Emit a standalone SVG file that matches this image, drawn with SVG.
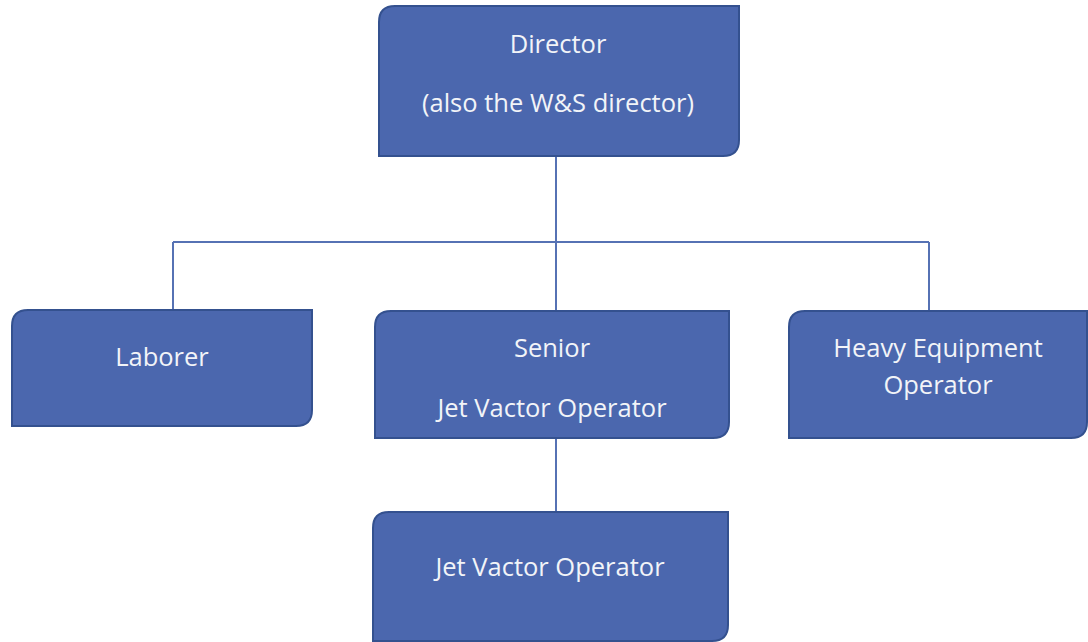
<svg xmlns="http://www.w3.org/2000/svg" width="1088" height="642" viewBox="0 0 1088 642">
<style>
.box{fill:#4b67ae;stroke:#34518f;stroke-width:2}
.t{font-family:"Open Sans","Noto Sans",sans-serif;font-size:25.5px;fill:#f2f4f8;text-anchor:middle}
.c{fill:none;stroke:#5672b4;stroke-width:2}
</style>
<rect width="1088" height="642" fill="#ffffff"/>
<g id="connectors">
<path class="c" d="M556 156V242M173 242H929M173 242V310M556 242V311M929 242V311M556 438V512"/>
</g>
<g id="director">
<path class="box" d="M395 6H739V140Q739 156 723 156H379V22Q379 6 395 6Z"/>
<text class="t" x="558" y="53">Director</text>
<text class="t" x="558" y="112">(also the W&amp;S director)</text>
</g>
<g id="laborer">
<path class="box" d="M28 310H312V410Q312 426 296 426H12V326Q12 310 28 310Z"/>
<text class="t" x="162" y="366">Laborer</text>
</g>
<g id="senior">
<path class="box" d="M391 311H729V422Q729 438 713 438H375V327Q375 311 391 311Z"/>
<text class="t" x="552" y="357">Senior</text>
<text class="t" x="552" y="417">Jet Vactor Operator</text>
</g>
<g id="heavy">
<path class="box" d="M805 311H1087V422Q1087 438 1071 438H789V327Q789 311 805 311Z"/>
<text class="t" x="938" y="357">Heavy Equipment</text>
<text class="t" x="938" y="394">Operator</text>
</g>
<g id="jet">
<path class="box" d="M389 512H728V625Q728 641 712 641H373V528Q373 512 389 512Z"/>
<text class="t" x="550" y="576">Jet Vactor Operator</text>
</g>
</svg>
